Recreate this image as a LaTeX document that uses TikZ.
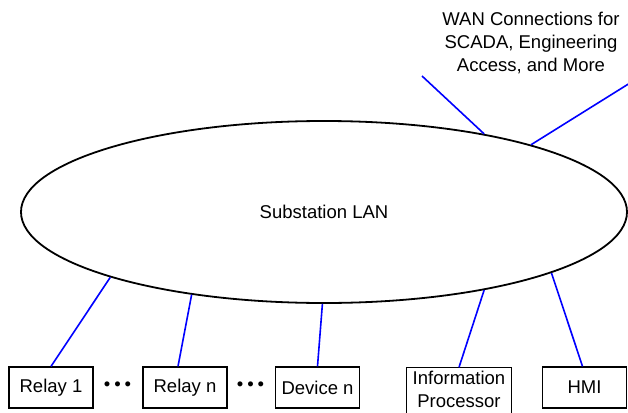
\documentclass[tikz,border=0pt]{standalone}
\usepackage{fontspec}
\setmainfont{Liberation Sans}
\usetikzlibrary{shapes.geometric}
\begin{document}
\begin{tikzpicture}[x=1pt,y=-1pt,
  every node/.style={font=\fontsize{18.5}{23}\selectfont},
  lanshape/.style={ellipse,draw,line width=1.8pt,inner sep=0pt,
                   minimum width=606pt,minimum height=182pt},
  unit/.style={draw,line width=1.3pt,inner sep=0pt,
               minimum width=84pt,minimum height=41pt},
  link/.style={draw=blue,line width=1.6pt},
  dots/.style={inner sep=0pt}]
\useasboundingbox (0,0) rectangle (628,412);

% central LAN cloud
\node[lanshape] (lan) at (324,212) {Substation LAN};

% field devices along the bottom
\node[unit] (r1) at (51,387.5) {Relay 1};
\node[unit] (rn) at (185,387.5) {Relay n};
\node[unit] (dn) at (317.5,387.5) {Device n};
\node[unit] (hmi) at (584.5,387.5) {HMI};
\node[minimum width=105pt,minimum height=44pt,
      inner sep=0pt,align=center,anchor=north] (ip) at (459,367.3)
      {Information\\Processor};
% its frame runs on past the lower edge of the page
\draw[line width=1.3pt] (ip.north west) rectangle ([yshift=-12pt]ip.south east);

\node[dots] (d1) at (117.5,386) {\textbullet\hspace{4pt}\textbullet\hspace{4pt}\textbullet};
\node[dots] (d2) at (250.5,386) {\textbullet\hspace{4pt}\textbullet\hspace{4pt}\textbullet};

% WAN label and its free line ends
\node[align=center] (wan) at (531,43) {WAN Connections for\\SCADA, Engineering\\Access, and More};
\coordinate (w1) at (422,76);
\coordinate (w2) at (630,83);

% links
\draw[link] (r1.north) -- (lan.197.8);
\draw[link] ([xshift=-7pt]rn.north) -- (lan.212.8);
\draw[link] (dn.north) -- (lan.269.4);
\draw[link] (ip.north) -- (lan.334.2);
\draw[link] ([xshift=-2pt]hmi.north) -- (lan.345.4);
\draw[link] (w1) -- (lan.26);
\draw[link] (w2) -- (lan.18.7);
\end{tikzpicture}
\end{document}
